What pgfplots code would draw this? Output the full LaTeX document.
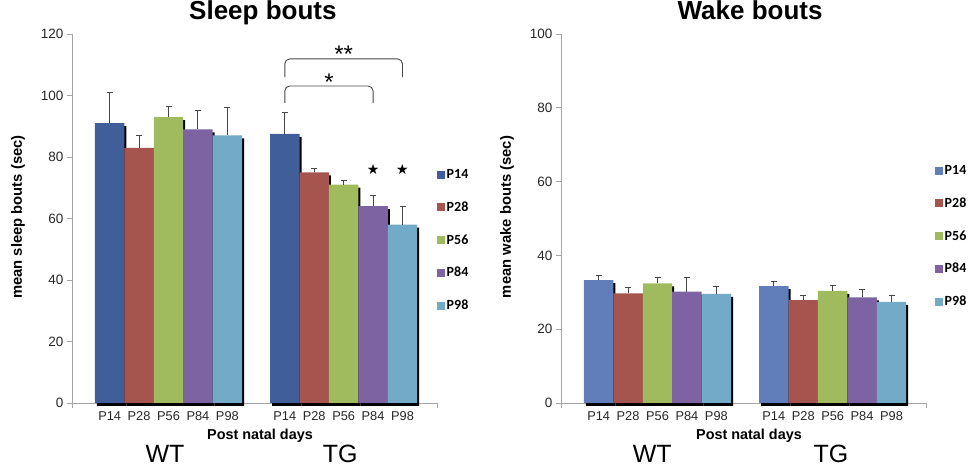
\documentclass[border=0pt]{standalone}
\usepackage{fontspec}
\setmainfont{Liberation Sans}
\newfontfamily\legfont{Carlito}
\newfontfamily\symfont{DejaVu Sans}
\usepackage{pgfplots}
\usepackage{pgfplotstable}
\pgfplotsset{compat=1.18}

\definecolor{c14s}{RGB}{64,94,154}
\definecolor{c14w}{RGB}{98,126,186}
\definecolor{c28}{RGB}{166,84,78}
\definecolor{c56}{RGB}{160,187,93}
\definecolor{c84}{RGB}{126,99,162}
\definecolor{c98}{RGB}{114,170,200}
\definecolor{axgray}{RGB}{165,165,165}
\definecolor{ebar}{RGB}{70,70,70}

% mean bout length (sec) and error; grp 0 = WT, 1 = TG
\pgfplotstableread{
grp p14 e14 p28 e28 p56 e56 p84 e84 p98 e98
0 91.0 10.0 83.0 4.0 93.0 3.3 89.0 6.0 87.0 9.0
1 87.5 7.0 75.0 1.3 71.0 1.5 64.0 3.6 58.0 5.8
}\sleeptab
\pgfplotstableread{
grp p14 e14 p28 e28 p56 e56 p84 e84 p98 e98
0 33.3 1.4 29.7 1.6 32.4 1.6 30.2 3.8 29.6 2.1
1 31.7 1.2 27.9 1.3 30.4 1.5 28.6 2.3 27.4 1.7
}\waketab

\pgfplotsset{
  shade/.style={fill=black, draw=none, forget plot, yshift=-3pt, bar shift=#1},
  pbar/.style 2 args={fill=#1, draw=none, bar shift=#2,
    legend image code/.code={\fill[#1] (0pt,-4pt) rectangle (8pt,4pt);},
    error bars/.cd, y dir=plus, y explicit,
    error bar style={draw=ebar, line width=0.9pt},
    error mark options={draw=ebar, rotate=90, mark size=3pt, line width=0.9pt}},
  bouts/.style={
    ybar, bar width=0.168, scale only axis, width=365pt, height=369pt,
    xmin=-0.551, xmax=1.533, ymin=0, clip mode=individual,
    axis x line*=bottom, axis y line*=left,
    axis line style={draw=axgray, line width=0.8pt},
    xtick={-0.336,-0.168,0,0.168,0.336,0.664,0.832,1,1.168,1.336},
    xticklabels={P14,P28,P56,P84,P98,P14,P28,P56,P84,P98},
    xtick style={draw=none},
    ytick style={draw=axgray, line width=0.8pt},
    tick align=outside, major tick length=5pt,
    /pgf/number format/assume math mode=true,
    xticklabel style={font=\fontsize{12.8}{13}\selectfont, text=black!85},
    yticklabel style={font=\fontsize{13.5}{14}\selectfont, text=black!85},
    title style={anchor=base, yshift=8pt, font=\bfseries\fontsize{26}{26}\selectfont},
    xlabel style={at={(axis description cs:0.515,0)}, anchor=base, yshift=-37pt,
      font=\bfseries\fontsize{14.4}{15}\selectfont},
    ylabel style={at={(axis description cs:-0.148,0.504)}, anchor=center,
      font=\bfseries\fontsize{14.8}{15}\selectfont},
    legend style={anchor=north west, draw=none, fill=none,
      font=\legfont\bfseries\fontsize{14}{14}\selectfont, row sep=18.6pt,
      inner sep=0pt, nodes={inner sep=1.5pt}},
    legend cell align=left,
  }
}

\newcommand{\boutbars}[2]{%
  \addplot[shade=-0.3245] table[x=grp,y=p14]{#1};
  \addplot[shade=-0.1565] table[x=grp,y=p28]{#1};
  \addplot[shade=0.0115] table[x=grp,y=p56]{#1};
  \addplot[shade=0.1795] table[x=grp,y=p84]{#1};
  \addplot[shade=0.3475] table[x=grp,y=p98]{#1};
  \addplot[pbar={#2}{-0.336}] table[x=grp,y=p14,y error=e14]{#1};
  \addplot[pbar={c28}{-0.168}] table[x=grp,y=p28,y error=e28]{#1};
  \addplot[pbar={c56}{0}] table[x=grp,y=p56,y error=e56]{#1};
  \addplot[pbar={c84}{0.168}] table[x=grp,y=p84,y error=e84]{#1};
  \addplot[pbar={c98}{0.336}] table[x=grp,y=p98,y error=e98]{#1};
  \legend{P14,P28,P56,P84,P98}
  \draw[axgray, line width=0.8pt] (axis description cs:0,0) -- ([yshift=-5pt]axis description cs:0,0);
  \draw[axgray, line width=0.8pt] (axis description cs:1,0) -- ([yshift=-5pt]axis description cs:1,0);
}

\begin{document}
\begin{tikzpicture}
\useasboundingbox (0,0) rectangle (971pt,473pt);

\begin{axis}[bouts, at={(72pt,70pt)}, anchor=south west,
  ymax=120, ytick={0,20,...,120},
  title={Sleep bouts}, title style={at={(axis description cs:0.523,1)}},
  xlabel={Post natal days}, ylabel={mean sleep bouts (sec)},
  legend style={at={(axis description cs:1,0.637)}}]
\boutbars{\sleeptab}{c14s}
\draw[ebar, line width=0.9pt, rounded corners=5pt]
  (axis cs:0.664,106) -- (axis cs:0.664,111.9) -- (axis cs:1.336,111.9) -- (axis cs:1.336,106);
\draw[ebar, line width=0.9pt, rounded corners=5pt]
  (axis cs:0.664,97.6) -- (axis cs:0.664,103.1) -- (axis cs:1.168,103.1) -- (axis cs:1.168,97.6);
\node[anchor=base, font=\fontsize{24}{24}\selectfont] at (axis cs:1.0,110.6) {**};
\node[anchor=base, font=\fontsize{24}{24}\selectfont] at (axis cs:0.916,101.6) {*};
\node[font=\symfont\fontsize{14}{14}\selectfont] at (axis cs:1.168,75.8) {★};
\node[font=\symfont\fontsize{14}{14}\selectfont] at (axis cs:1.336,75.8) {★};
\node[anchor=base, font=\fontsize{25}{25}\selectfont] at (axis cs:-0.02,0) [yshift=-60pt] {WT};
\node[anchor=base, font=\fontsize{25}{25}\selectfont] at (axis cs:0.98,0) [yshift=-60pt] {TG};
\end{axis}

\begin{axis}[bouts, at={(561pt,70pt)}, anchor=south west,
  ymax=100, ytick={0,20,...,100},
  title={Wake bouts}, title style={at={(axis description cs:0.518,1)}},
  xlabel={Post natal days}, ylabel={mean wake bouts (sec)},
  legend style={at={(axis description cs:1,0.648)}, xshift=9pt}]
\boutbars{\waketab}{c14w}
\node[anchor=base, font=\fontsize{25}{25}\selectfont] at (axis cs:-0.03,0) [yshift=-60pt] {WT};
\node[anchor=base, font=\fontsize{25}{25}\selectfont] at (axis cs:0.99,0) [yshift=-60pt] {TG};
\end{axis}
\end{tikzpicture}
\end{document}
